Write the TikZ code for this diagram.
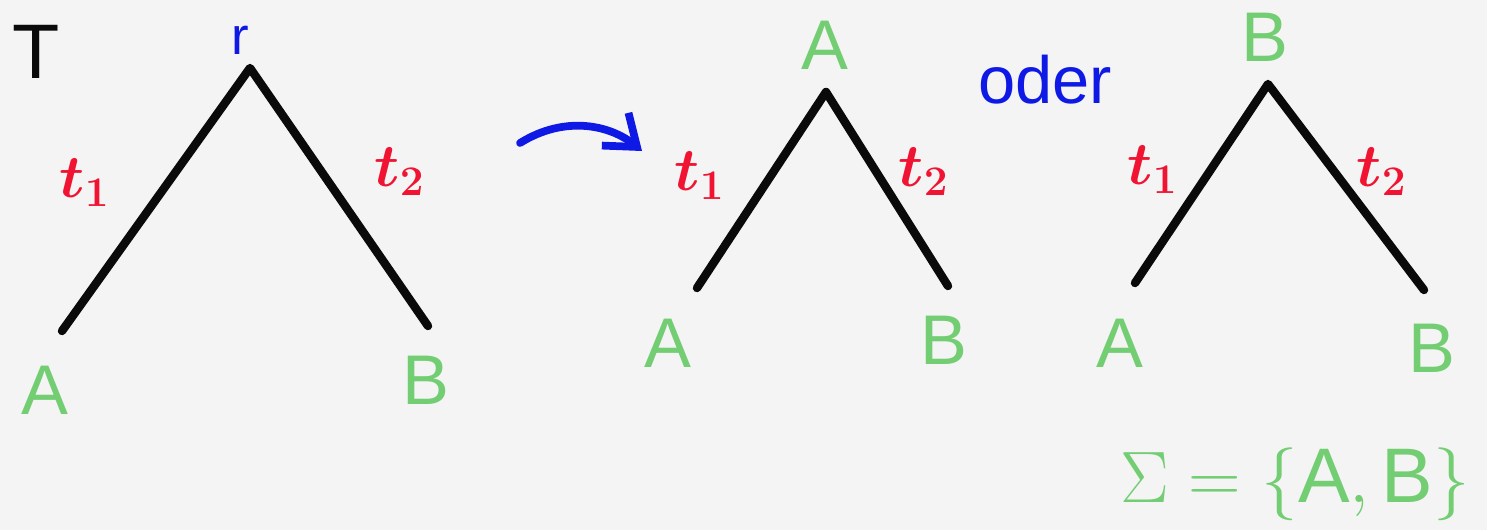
\documentclass[tikz,border=0pt]{standalone}
\usepackage{fontspec}
\setsansfont{Liberation Sans}
\usepackage{bm}
\usetikzlibrary{arrows.meta}
\definecolor{penblack}{RGB}{10,10,10}
\definecolor{penblue}{RGB}{15,25,230}
\definecolor{penred}{RGB}{240,20,50}
\definecolor{pengreen}{RGB}{115,205,115}
\definecolor{paper}{RGB}{244,244,244}
\tikzset{
  edge/.style={draw=penblack, line width=2.4pt, line cap=round, line join=round},
  leaf/.style={text=pengreen, font=\sffamily\fontsize{20}{22}\selectfont, inner sep=0pt},
  elabel/.style={text=penred, font=\fontsize{18}{20}\selectfont, inner sep=0pt},
  bluetext/.style={text=penblue, font=\sffamily\fontsize{19}{21}\selectfont, inner sep=0pt},
}
\begin{document}
\begin{tikzpicture}[x=0.01cm,y=-0.01cm]
\fill[paper] (0,0) rectangle (1487,530);
\useasboundingbox (0,0) rectangle (1487,530);

% Tree T
\node[font=\sffamily\fontsize{22}{24}\selectfont, text=penblack, inner sep=0pt] (T) at (36,52) {T};
\node[bluetext, font=\sffamily\fontsize{15}{17}\selectfont] (r) at (240,40) {r};
\coordinate (r1) at (250,68);
\coordinate (a1) at (62,331);
\coordinate (b1) at (428,326);
\draw[edge] (a1) -- (r1) -- (b1);
\node[elabel] (t11) at (85,183) {$\bm{t_1}$};
\node[elabel] (t12) at (400,172) {$\bm{t_2}$};
\node[leaf] (A1) at (45,390) {A};
\node[leaf] (B1) at (426,380) {B};

% transformation arrow
\coordinate (arS) at (520,143);
\coordinate (arE) at (642,151);
\draw[draw=penblue, line width=2.2pt, line cap=round, -{Straight Barb[length=8pt,width=12pt]}]
  (arS) .. controls (565,115) and (610,125) .. (arE);

% Tree 2
\node[leaf] (A2top) at (825,45) {A};
\coordinate (r2) at (826,92);
\coordinate (a2) at (697,288);
\coordinate (b2) at (948,286);
\draw[edge] (a2) -- (r2) -- (b2);
\node[elabel] (t21) at (700,176) {$\bm{t_1}$};
\node[elabel] (t22) at (924,172) {$\bm{t_2}$};
\node[leaf] (A2) at (668,343) {A};
\node[leaf] (B2) at (944,340) {B};

\node[bluetext] (oder) at (1045,80) {oder};

% Tree 3
\node[leaf] (B3top) at (1265,37) {B};
\coordinate (r3) at (1268,84);
\coordinate (a3) at (1135,283);
\coordinate (b3) at (1424,290);
\draw[edge] (a3) -- (r3) -- (b3);
\node[elabel] (t31) at (1153,170) {$\bm{t_1}$};
\node[elabel] (t32) at (1382,172) {$\bm{t_2}$};
\node[leaf] (A3) at (1120,343) {A};
\node[leaf] (B3) at (1432,348) {B};

% alphabet
\node[text=pengreen, font=\fontsize{22}{24}\selectfont, inner sep=0pt] (sigma) at (1295,484)
  {$\Sigma=\{\mathsf{A},\mathsf{B}\}$};
\end{tikzpicture}
\end{document}
